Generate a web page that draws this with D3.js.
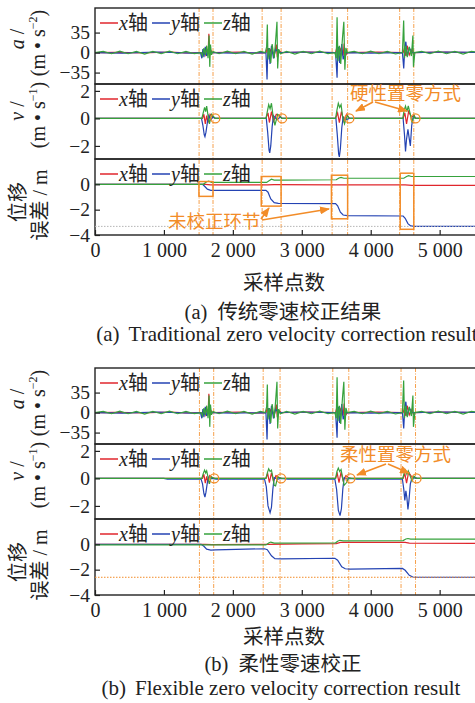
<!DOCTYPE html>
<html>
<head>
<meta charset="utf-8">
<script src="https://cdn.jsdelivr.net/npm/d3@7"></script>
<style>
    body { margin: 0; background: #fff; }
    svg { display: block; }
</style>
</head>
<body>
<svg id="chart" width="475" height="703"></svg>
<script>
// ---- data ----
const xTicks = [0, 1000, 2000, 3000, 4000, 5000];
const accTicks = [35, 0, -35];
const velTicks = [2, 0, -2];
const dispTicks = [0, -2, -4];
const axisNames = ["x", "y", "z"];
const colors = ["#e0262c", "#2443b3", "#36a23c"];

// event boundaries (dashed lines) and zeroing points (circles)
const marksA = [1510, 1712, 2425, 2700, 3440, 3665, 4420, 4625];
const marksB = [1515, 1722, 2440, 2685, 3450, 3682, 4440, 4650];
const circlesA = [1745, 2715, 3690, 4650];
const circlesB = [1730, 2700, 3705, 4665];
const boxesA = [[1508, 1712, 0.22, -0.95], [2412, 2700, 0.62, -1.72], [3430, 3665, 0.72, -2.72], [4428, 4625, 0.88, -3.55]];
const finalA = -3.32;
const finalB = -2.6;

// acceleration (same raw data in both figures)
const accX = [[0,0],[300,0.5],[700,-0.5],[1100,1],[1300,-0.5],[1560,0],[1580,3],[1600,-4],[1620,6],[1640,-3],[1652,33],[1662,-6],[1680,4],[1700,0],
    [2100,1],[2300,-1],[2480,0],[2500,8],[2520,-6],[2550,5],[2600,-4],[2630,14],[2645,-8],[2670,3],[2700,0],[3100,1],
    [3490,0],[3510,10],[3530,-8],[3560,6],[3600,-5],[3615,16],[3630,-6],[3660,0],[4100,1],
    [4470,0],[4490,8],[4510,-6],[4530,12],[4560,-4],[4600,6],[4620,-3],[4640,0],[5000,1],[5600,0]];
const accY = [[0,0],[400,-1],[900,1],[1400,-1],[1530,0],[1550,-10],[1565,6],[1580,-8],[1600,10],[1620,-6],[1650,4],[1680,0],[2000,-1],
    [2480,0],[2496,-47],[2505,-5],[2520,8],[2540,-20],[2560,12],[2590,-10],[2620,6],[2660,0],[3000,1],
    [3490,0],[3512,-44],[3520,-5],[3530,10],[3550,-18],[3580,15],[3600,-12],[3630,0],[4000,-1],
    [4460,0],[4479,-28],[4495,10],[4510,19],[4530,-6],[4560,8],[4600,0],[5100,1],[5600,0]];
const accZ = [[0,0],[120,2],[240,-2],[360,2.5],[480,-2],[600,2],[720,-2.5],[840,2],[960,-2],[1080,2.5],[1200,-2],[1320,2],[1440,-2],
    [1540,0],[1560,-6],[1580,8],[1600,-4],[1620,12],[1640,-10],[1655,30],[1665,-25],[1675,14],[1690,-4],[1710,2],
    [1800,-2],[1920,2.5],[2040,-2],[2160,2],[2280,-2.5],[2400,2],
    [2470,0],[2490,10],[2500,49],[2510,-12],[2530,8],[2550,-18],[2570,15],[2600,-10],[2620,20],[2640,54],[2650,-28],[2665,6],[2690,-2],
    [2780,2],[2900,-2.5],[3020,2],[3140,-2],[3260,2.5],[3380,-2],
    [3480,0],[3500,-10],[3512,62],[3525,-15],[3545,12],[3565,-20],[3590,25],[3610,54],[3625,-30],[3640,8],[3660,0],
    [3760,2],[3880,-2],[4000,2.5],[4120,-2],[4240,2],[4360,-2.5],
    [4460,0],[4478,56],[4490,-10],[4510,12],[4530,-8],[4560,10],[4590,-6],[4612,30],[4620,-25],[4640,0],
    [4740,2],[4860,-2],[4980,2.5],[5100,-2],[5220,2],[5340,-2.5],[5460,2],[5600,0]];

// velocity, (a) hard zeroing
const velXa = [[0,0],[1560,0],[1580,0.3],[1600,-0.4],[1620,0.2],[1640,-0.3],[1670,0.3],[1700,0.15],[1745,0],
    [2480,0],[2510,0.4],[2530,-0.3],[2560,0.5],[2590,-0.2],[2630,0.3],[2680,0.2],[2715,0],
    [3490,0],[3520,0.4],[3545,-0.3],[3575,0.5],[3610,-0.2],[3650,0.3],[3690,0],
    [4470,0],[4495,0.4],[4520,-0.4],[4550,0.5],[4590,0.1],[4630,0.2],[4650,0],[5600,0]];
const velYa = [[0,0],[1545,0],[1565,-0.5],[1585,-1.2],[1595,-1.33],[1610,-1.0],[1630,-0.3],[1650,0.2],[1680,-0.1],[1710,0.1],[1745,0],
    [2485,0],[2505,-1.0],[2525,-2.3],[2535,-2.5],[2550,-2.0],[2570,-0.6],[2590,0.2],[2640,-0.1],[2690,0.1],[2715,0],
    [3495,0],[3515,-1.2],[3535,-2.6],[3545,-2.8],[3560,-2.2],[3580,-0.7],[3600,0.1],[3640,-0.1],[3690,0],
    [4470,0],[4490,-1.2],[4505,-2.4],[4520,-1.5],[4540,-0.8],[4560,-1.5],[4575,-2.0],[4595,-0.5],[4615,0.1],[4650,0],[5600,0]];
const velZa = [[0,0],[1550,0],[1570,0.4],[1590,0.8],[1605,0.5],[1620,0.9],[1640,0.2],[1660,-0.4],[1690,0.3],[1745,0],
    [2480,0],[2500,0.5],[2520,1.0],[2540,0.7],[2560,1.1],[2580,0.3],[2610,-0.5],[2650,0.3],[2715,0],
    [3490,0],[3510,0.6],[3530,1.1],[3550,0.8],[3570,1.0],[3590,0.2],[3620,-0.4],[3660,0.2],[3690,0],
    [4465,0],[4485,0.6],[4505,0.9],[4525,0.5],[4545,0.9],[4575,0.3],[4600,-0.3],[4630,0.2],[4650,0],[5600,0]];

// velocity, (b) flexible zeroing
const velXb = [[0,0],[1560,0],[1580,0.3],[1600,-0.35],[1620,0.15],[1640,-0.25],[1665,0.2],[1690,0.1],[1710,0.05],[1740,0],
    [2480,0],[2505,0.35],[2530,-0.3],[2560,0.4],[2590,-0.2],[2625,0.2],[2660,0.1],[2700,0],
    [3490,0],[3515,0.35],[3540,-0.3],[3570,0.45],[3600,-0.15],[3640,0.2],[3680,0.05],[3710,0],
    [4470,0],[4495,0.35],[4520,-0.35],[4550,0.45],[4590,0.15],[4630,0.1],[4670,0],[5600,0]];
const velYb = [[0,0],[1000,0],[1050,-0.06],[1540,-0.06],[1560,-0.4],[1580,-1.1],[1595,-1.36],[1610,-1.0],[1630,-0.3],[1650,0.1],[1690,0],[1760,-0.06],
    [2460,-0.06],[2485,-0.6],[2510,-2.0],[2540,-2.5],[2560,-2.1],[2580,-0.8],[2600,0.05],[2650,-0.05],[2700,0],[2800,-0.06],
    [3480,-0.06],[3505,-0.8],[3530,-2.3],[3555,-2.7],[3575,-2.2],[3595,-0.8],[3615,0.05],[3660,-0.05],[3705,0],[3800,-0.06],
    [4460,-0.06],[4480,-0.8],[4495,-1.6],[4510,-0.9],[4525,-1.4],[4540,-2.25],[4555,-1.6],[4575,-0.4],[4600,0.05],[4665,0],[5600,0]];
const velZb = [[0,0],[1550,0],[1570,0.35],[1590,0.6],[1605,0.4],[1620,0.55],[1640,0.1],[1660,-0.4],[1690,0.1],[1730,0],
    [2480,0],[2500,0.4],[2520,0.7],[2540,0.5],[2560,0.6],[2580,0.1],[2600,-0.5],[2620,-0.55],[2650,0.1],[2700,0],
    [3490,0],[3510,0.5],[3530,0.75],[3550,0.5],[3570,0.65],[3590,0.1],[3615,-0.5],[3650,-0.3],[3680,0.05],[3705,0],
    [4465,0],[4485,0.4],[4505,0.6],[4525,0.3],[4545,0.55],[4570,0.2],[4600,-0.2],[4630,0.15],[4665,0],[5600,0]];

// displacement error
const dispXa = [[0,0],[1600,0],[1680,-0.04],[2500,-0.04],[2600,-0.03],[3500,-0.04],[4500,-0.05],[4600,-0.08],[5600,-0.08]];
const dispYa = [[0,0],[1560,0],[1590,-0.15],[1630,-0.38],[1680,-0.47],[1750,-0.48],[2480,-0.48],[2510,-0.62],[2550,-1.15],[2600,-1.45],[2660,-1.5],
    [3490,-1.52],[3520,-1.7],[3560,-2.2],[3600,-2.42],[3660,-2.47],[4470,-2.5],[4500,-2.68],[4540,-3.1],[4580,-3.28],[4640,-3.32],[5600,-3.32]];
const dispZa = [[0,0],[1570,0],[1620,0.2],[1650,0.26],[1690,0.16],[1760,0.15],[2490,0.15],[2530,0.3],[2560,0.4],[2600,0.34],[2700,0.34],
    [3500,0.36],[3540,0.5],[3570,0.55],[3610,0.48],[4480,0.48],[4520,0.62],[4550,0.68],[4590,0.62],[5600,0.62]];
const dispXb = [[0,0],[1600,0],[1700,-0.03],[2500,0],[3000,0.04],[3500,0.06],[3560,0.15],[4500,0.15],[4560,0.1],[5600,0.08]];
const dispYb = [[0,0],[1540,0],[1580,-0.15],[1620,-0.38],[1680,-0.45],[1750,-0.44],[2460,-0.35],[2500,-0.42],[2560,-0.9],[2610,-1.13],[2700,-1.15],
    [3480,-1.1],[3520,-1.25],[3580,-1.78],[3630,-1.93],[3700,-1.95],[4460,-1.9],[4500,-2.05],[4560,-2.45],[4610,-2.58],[4700,-2.6],[5600,-2.6]];
const dispZb = [[0,-0.05],[2480,-0.05],[2520,0.1],[2550,0.18],[2600,0.1],[3490,0.12],[3520,0.25],[3550,0.32],[3600,0.27],
    [4470,0.3],[4510,0.42],[4540,0.46],[4580,0.41],[5600,0.41]];

// ---- drawing ----
const svg = d3.select("#chart");
const left = 95, right = 481;
const orange = "#f28c28";
const dashOrange = "#f6a04c";
const serif = "'Liberation Serif', 'Times New Roman', serif";
const cjk = "'Noto Sans CJK SC', sans-serif";
const textColor = "#222";
const numFormat = d => (d < 0 ? "−" + Math.abs(d) : String(d));

const x = d3.scaleLinear().domain([0, 5600]).range([left, right]);
const defs = svg.append("defs");

defs.append("marker")
    .attr("id", "arrowHead")
    .attr("markerUnits", "userSpaceOnUse")
    .attr("markerWidth", 10).attr("markerHeight", 8)
    .attr("refX", 9).attr("refY", 4)
    .attr("orient", "auto")
    .append("path")
    .attr("d", "M0,0 L10,4 L0,8 Z")
    .attr("fill", orange);

let clipCount = 0;

function drawPanel(top, bottom, domain, ticks, series) {
    const y = d3.scaleLinear().domain(domain).range([bottom, top]);
    const id = "clip" + (clipCount++);
    defs.append("clipPath").attr("id", id)
        .append("rect")
        .attr("x", left).attr("y", top)
        .attr("width", right - left).attr("height", bottom - top);

    const line = d3.line().x(d => x(d[0])).y(d => y(d[1]));
    const g = svg.append("g").attr("clip-path", `url(#${id})`);
    series.forEach((s, i) => {
        g.append("path")
            .datum(s)
            .attr("d", line)
            .attr("fill", "none")
            .attr("stroke", colors[i])
            .attr("stroke-width", 1.2);
    });

    const ax = svg.append("g")
        .attr("transform", `translate(${left},0)`)
        .call(d3.axisLeft(y).tickValues(ticks).tickFormat(numFormat)
            .tickSizeInner(-5).tickSizeOuter(0).tickPadding(5));
    ax.select(".domain").remove();
    ax.selectAll("line").attr("stroke", textColor).attr("stroke-width", 1.2);
    ax.selectAll("text")
        .attr("font-family", serif)
        .attr("font-size", 19.5)
        .attr("fill", textColor);

    // legend
    axisNames.forEach((n, i) => {
        const lx = 100 + i * 52;
        svg.append("line")
            .attr("x1", lx).attr("x2", lx + 18)
            .attr("y1", top + 15).attr("y2", top + 15)
            .attr("stroke", colors[i]).attr("stroke-width", 1.5);
        const t = svg.append("text")
            .attr("x", lx + 19).attr("y", top + 22)
            .attr("font-size", 20)
            .attr("fill", textColor);
        t.append("tspan").attr("font-family", serif).attr("font-style", "italic").text(n);
        t.append("tspan").attr("font-family", cjk).text("轴");
    });

    svg.append("rect")
        .attr("x", left).attr("y", top)
        .attr("width", right - left).attr("height", bottom - top)
        .attr("fill", "none")
        .attr("stroke", textColor)
        .attr("stroke-width", 1.4);

    return y;
}

function rotatedLabel(xPos, yPos, parts) {
    const t = svg.append("text")
        .attr("transform", `translate(${xPos},${yPos}) rotate(-90)`)
        .attr("text-anchor", "middle")
        .attr("font-size", 20)
        .attr("fill", textColor);
    parts.forEach(p => {
        const s = t.append("tspan")
            .attr("font-family", p.cjk ? cjk : serif)
            .text(p.text);
        if (p.italic) s.attr("font-style", "italic");
        if (p.sup) s.attr("font-size", 12).attr("dy", -8);
        if (p.after) s.attr("dy", 8);
    });
}

function drawFigure(cfg) {
    const t = cfg.top;
    const pAcc = [t, t + 76], pVel = [t + 76, t + 151], pDisp = [t + 151, t + 227];

    // dashed event lines behind the data
    svg.append("g").selectAll("line")
        .data(cfg.marks)
        .enter()
        .append("line")
        .attr("x1", d => x(d)).attr("x2", d => x(d))
        .attr("y1", t).attr("y2", pDisp[1])
        .attr("stroke", dashOrange)
        .attr("stroke-width", 1)
        .attr("stroke-dasharray", "4,1.5,1,1.5");

    drawPanel(pAcc[0], pAcc[1], [-55, 78], accTicks, [accX, accY, accZ]);
    const yVel = drawPanel(pVel[0], pVel[1], [-2.95, 2.5], velTicks, cfg.vel);
    const yDisp = drawPanel(pDisp[0], pDisp[1], [-4, 2], dispTicks, cfg.disp);

    // dotted final level
    svg.append("line")
        .attr("x1", left).attr("x2", right)
        .attr("y1", yDisp(cfg.final)).attr("y2", yDisp(cfg.final))
        .attr("stroke", cfg.finalColor)
        .attr("stroke-width", 1)
        .attr("stroke-dasharray", "1.5,1.5");

    // zeroing circles
    svg.selectAll(null)
        .data(cfg.circles)
        .enter()
        .append("circle")
        .attr("cx", d => x(d)).attr("cy", yVel(0))
        .attr("r", 4.5)
        .attr("fill", "none")
        .attr("stroke", orange)
        .attr("stroke-width", 1.3);

    // x axis at the bottom
    const xa = svg.append("g")
        .attr("transform", `translate(0,${pDisp[1]})`)
        .call(d3.axisBottom(x).tickValues(xTicks).tickSizeInner(-5).tickSizeOuter(0).tickPadding(8)
            .tickFormat(d => d3.format(",")(d).replace(",", " ")));
    xa.select(".domain").remove();
    xa.selectAll("line").attr("stroke", textColor).attr("stroke-width", 1.2);
    xa.selectAll("text")
        .attr("font-family", serif)
        .attr("font-size", 20)
        .attr("fill", textColor);

    // y labels
    rotatedLabel(24, t + 31, [{text: "a", italic: true}, {text: " /"}]);
    rotatedLabel(45, t + 35, [{text: "(m • s"}, {text: "−2", sup: true}, {text: ")", after: true}]);
    rotatedLabel(24, t + 103, [{text: "v", italic: true}, {text: " /"}]);
    rotatedLabel(45, t + 107, [{text: "(m • s"}, {text: "−1", sup: true}, {text: ")", after: true}]);
    rotatedLabel(25, t + 194, [{text: "位移", cjk: true}]);
    rotatedLabel(47, t + 197, [{text: "误差", cjk: true}, {text: " / m"}]);

    // x label and captions
    svg.append("text")
        .attr("x", 284).attr("y", cfg.labelY)
        .attr("text-anchor", "middle")
        .attr("font-family", cjk)
        .attr("font-size", 20.5)
        .attr("fill", textColor)
        .text("采样点数");

    const cap = svg.append("text")
        .attr("x", 283).attr("y", cfg.capY)
        .attr("text-anchor", "middle")
        .attr("font-size", 20.5)
        .attr("fill", textColor);
    cap.append("tspan").attr("font-family", serif).text(cfg.tag);
    cap.append("tspan").attr("dx", 10).attr("font-family", cjk).text(cfg.capCn);

    const en = svg.append("text")
        .attr("x", cfg.enX).attr("y", cfg.enY)
        .attr("text-anchor", "middle")
        .attr("font-family", serif)
        .attr("font-size", 21)
        .attr("fill", textColor);
    en.append("tspan").text(cfg.tag);
    en.append("tspan").attr("dx", 9).text(cfg.capEn);
}

function arrow(x1, y1, x2, y2) {
    svg.append("line")
        .attr("x1", x1).attr("y1", y1)
        .attr("x2", x2).attr("y2", y2)
        .attr("stroke", orange)
        .attr("stroke-width", 1.6)
        .attr("marker-end", "url(#arrowHead)");
}

function note(xPos, yPos, str) {
    svg.append("text")
        .attr("x", xPos).attr("y", yPos)
        .attr("font-family", cjk)
        .attr("font-size", 18.5)
        .attr("fill", orange)
        .text(str);
}

// (a) traditional
drawFigure({
    top: 8, marks: marksA, circles: circlesA,
    vel: [velXa, velYa, velZa], disp: [dispXa, dispYa, dispZa],
    final: finalA, finalColor: "#b5b5b5",
    labelY: 290, capY: 319, tag: "(a)", capCn: "传统零速校正结果",
    enX: 287, enY: 341, capEn: "Traditional zero velocity correction result"
});

// boxes around the uncorrected steps
const yDispA = d3.scaleLinear().domain([-4, 2]).range([235, 159]);
svg.selectAll(null)
    .data(boxesA)
    .enter()
    .append("rect")
    .attr("x", d => x(d[0]))
    .attr("y", d => yDispA(d[2]))
    .attr("width", d => x(d[1]) - x(d[0]))
    .attr("height", d => yDispA(d[3]) - yDispA(d[2]))
    .attr("fill", "none")
    .attr("stroke", orange)
    .attr("stroke-width", 1.5);

note(350, 100, "硬性置零方式");
arrow(373, 102, 356, 111);
arrow(375, 102, 407, 111);
note(168, 228, "未校正环节");
arrow(261, 219, 269, 208);
arrow(262, 220, 329, 209);

// (b) flexible
drawFigure({
    top: 368, marks: marksB, circles: circlesB,
    vel: [velXb, velYb, velZb], disp: [dispXb, dispYb, dispZb],
    final: finalB, finalColor: orange,
    labelY: 644, capY: 671, tag: "(b)", capCn: "柔性零速校正",
    enX: 281, enY: 695, capEn: "Flexible zero velocity correction result"
});

note(340, 461, "柔性置零方式");
arrow(386, 464, 357, 475);
arrow(388, 464, 409, 473);
</script>
</body>
</html>
